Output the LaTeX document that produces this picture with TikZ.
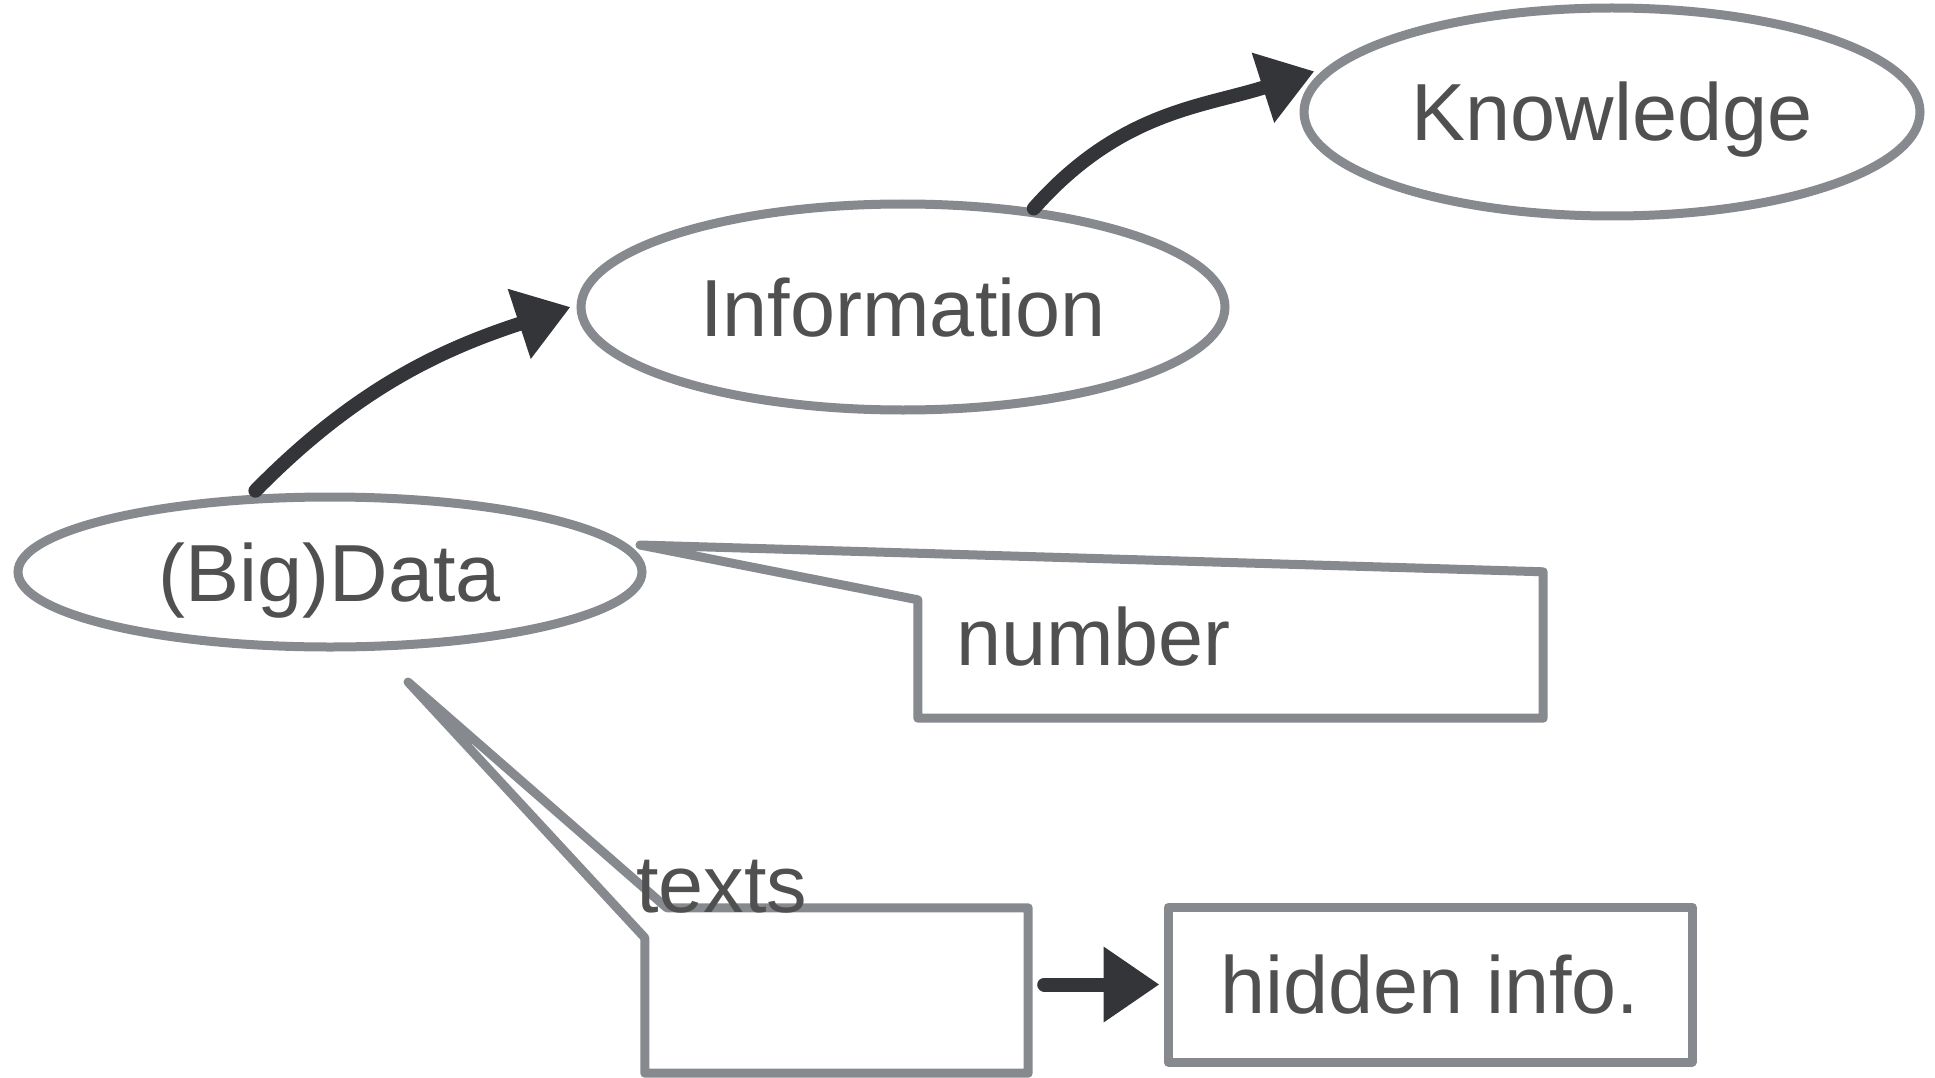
\documentclass[tikz,border=0pt]{standalone}
\usepackage{fontspec}
\setmainfont{Liberation Sans}
\usetikzlibrary{shapes.geometric,arrows.meta,calc}
\definecolor{outl}{RGB}{134,137,142}
\definecolor{txt}{RGB}{80,80,80}
\definecolor{arrc}{RGB}{52,53,56}
\begin{document}
\begin{tikzpicture}[x=1pt,y=-1pt,
  lbl/.style={font=\fontsize{81}{97}\selectfont, text=txt, inner sep=0pt, text height=58pt, text depth=0pt},
  oval/.style={ellipse, draw=outl, line width=9pt, lbl},
  boxshape/.style={draw=outl, line width=9pt, line join=round},
  arr/.style={draw=arrc, line width=14pt, line cap=round, -{Triangle[length=54pt,width=70pt]}}
]
\useasboundingbox (0,0) rectangle (1935,1078);
% ellipses
\node[oval, minimum width=616pt, minimum height=208pt] (know) at (1612,112) {Knowledge};
\node[oval, minimum width=644pt, minimum height=206pt] (info) at (903,307) {Information};
\node[oval, minimum width=624pt, minimum height=150pt] (bd) at (330,572) {(Big)Data};
% boxes
\node[rectangle, draw=outl, line width=9pt, line join=round, lbl, minimum width=524pt, minimum height=155pt] (hid) at (1430,984.5) {hidden info.};
\node[rectangle, inner sep=0pt, minimum width=383pt, minimum height=165pt] (tb) at (836.5,990.5) {};
\node[rectangle, inner sep=0pt, minimum width=625pt, minimum height=146pt] (nb) at (1230.5,645) {};
\coordinate (ntip) at (640,545);
\coordinate (ttip) at (408,682);
% callout outlines
\draw[boxshape] (ntip) -- ($(nb.north west)+(0,28)$) -- (nb.south west) -- (nb.south east) -- (nb.north east) -- cycle;
\draw[boxshape] (ttip) -- ($(tb.north west)+(0,30)$) -- (tb.south west) -- (tb.south east) -- (tb.north east) -- ($(tb.north west)+(22,0)$) -- cycle;
% labels
\node[lbl, anchor=base west] (numtxt) at (956,665) {number};
\node[lbl, anchor=base west] (texttxt) at (636,912) {texts};
% arrows
\draw[arr] ([yshift=4pt]bd.134) .. controls (360,384) and (449,347) .. ([xshift=-6pt]info.west);
\draw[arr] (info.37) .. controls (1120,111) and (1203,107) .. ([xshift=-8pt]know.172);
\draw[arr, -{Triangle[length=56pt,width=72pt]}, shorten <=16pt] (tb.east |- hid.west) -- ([xshift=-4pt]hid.west);
\end{tikzpicture}
\end{document}
